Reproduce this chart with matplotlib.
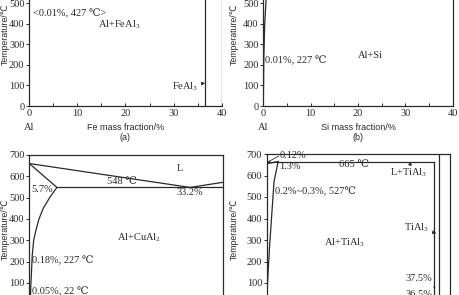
import matplotlib
matplotlib.use("Agg")
import matplotlib.pyplot as plt

plt.rcParams['mathtext.fontset'] = 'custom'
plt.rcParams['mathtext.rm'] = 'Liberation Serif'
plt.rcParams['mathtext.it'] = 'Liberation Serif:italic'

SERIF = ['Liberation Serif', 'DejaVu Serif', 'DejaVu Sans']
SANS = ['Liberation Sans', 'DejaVu Sans']
INK = '#2a2a2a'

# ---------------- data ----------------
temp_ticks = [0, 100, 200, 300, 400, 500, 600, 700]
mass_ticks = [0, 10, 20, 30, 40]
mass_minor = [5, 15, 25, 35]

# (a) Al-Fe
fe_phase_x = [36.5, 40]

# (b) Al-Si solvus
si_solvus_x = [0.0, 0.05, 0.1, 0.3, 0.6, 1.0]
si_solvus_t = [0, 100, 227, 400, 520, 580]

# (c) Al-Cu
cu_liq_x = [0, 33.2, 40]
cu_liq_t = [660, 548, 572]
cu_sol_x = [0, 5.7]
cu_sol_t = [660, 548]
cu_eut_x = [5.7, 40]
cu_eut_t = [548, 548]
cu_solvus_x = [5.7, 4.2, 2.9, 2.0, 1.4, 0.9, 0.6, 0.45, 0.3, 0.2]
cu_solvus_t = [548, 500, 451, 400, 350, 300, 227, 150, 80, 0]

# (d) Al-Ti
ti_liq_x = [0, 0.6]
ti_liq_t = [660, 665]
ti_sol_x = [0, 2.5]
ti_sol_t = [655, 665]
ti_peri_x = [0, 36.5]
ti_peri_t = [665, 665]
ti_solvus_x = [2.5, 1.6, 1.1, 0.6, 0.2, 0.0]
ti_solvus_t = [665, 572, 417, 262, 107, 0]
ti_phase_x = [36.5, 37.5]
ti_phase_top = [665, 700]

W, H = 460, 295
fig = plt.figure(figsize=(4.6, 2.95), dpi=100)


def make_ax(x0, x1, ytop, ybot, labx):
    ax = fig.add_axes([x0 / W, 1 - ybot / H, (x1 - x0) / W, (ybot - ytop) / H])
    ax.set_xlim(0, 40)
    ax.set_ylim(0, 700)
    for s in ax.spines.values():
        s.set_linewidth(0.9)
        s.set_color(INK)
    ax.set_xticks(mass_ticks)
    ax.set_xticks(mass_minor, minor=True)
    ax.set_yticks(temp_ticks)
    ax.set_xticklabels([str(v) for v in mass_ticks], fontfamily=SERIF, fontsize=7.5, color=INK)
    ax.set_yticklabels([str(v) for v in temp_ticks], fontfamily=SERIF, fontsize=7.5, color=INK)
    ax.tick_params(axis='x', which='both', direction='in', length=2.5, width=0.7, pad=2, colors=INK)
    ax.tick_params(axis='y', which='both', direction='out', length=2.5, width=0.7, pad=0.8, colors=INK)
    ax.set_ylabel('Temperature/℃', fontfamily=SANS, fontsize=6.3, color=INK)
    ax.yaxis.set_label_coords(labx, 0.5)
    return ax


def bottom_labels(ax, axis_px_h, name, tag):
    ax.text(0.5, -21 / axis_px_h, name, transform=ax.transAxes, fontfamily=SANS, fontsize=6.5,
            color=INK, ha='center', va='center')
    ax.text(0, -21 / axis_px_h, 'Al', transform=ax.transAxes, fontfamily=SERIF, fontsize=7.5,
            color=INK, ha='center', va='center')
    ax.text(0.5, -31 / axis_px_h, tag, transform=ax.transAxes, fontfamily=SANS, fontsize=6.5,
            color=INK, ha='center', va='center')


lw = 0.9

# ---- (a)
axa = make_ax(29, 222, -37.8, 106, -0.101)
axa.spines['right'].set_visible(False)
for xv in fe_phase_x:
    axa.axvline(xv, color=INK, lw=lw)
axa.text(0.8, 451, '<0.01%, 427 ℃>', fontfamily=SERIF, fontsize=7.5, color=INK, va='center')
axa.text(18.8, 394, r'Al+FeAl$_3$', fontfamily=SERIF, fontsize=7.5, color=INK, va='center', ha='center')
axa.annotate(r'FeAl$_3$', xy=(36.5, 112), xytext=(35.0, 92), fontfamily=SERIF, fontsize=7.5,
             color=INK, ha='right', va='center',
             arrowprops=dict(arrowstyle='-|>', lw=0.6, color=INK, mutation_scale=5))
bottom_labels(axa, 143.8, 'Fe mass fraction/%', '(a)')

# ---- (b)
axb = make_ax(263.3, 452.7, -37.8, 106, -0.128)
axb.plot(si_solvus_x, si_solvus_t, color=INK, lw=lw, clip_on=True)
axb.text(0.4, 219, '0.01%, 227 ℃', fontfamily=SERIF, fontsize=7.5, color=INK, va='center')
axb.text(22.7, 248, 'Al+Si', fontfamily=SERIF, fontsize=7.5, color=INK, va='center', ha='center')
bottom_labels(axb, 143.8, 'Si mass fraction/%', '(b)')

# ---- (c)
axc = make_ax(29.3, 223, 155, 304.3, -0.102)
axc.plot(cu_liq_x, cu_liq_t, color=INK, lw=lw)
axc.plot(cu_sol_x, cu_sol_t, color=INK, lw=lw)
axc.plot(cu_eut_x, cu_eut_t, color=INK, lw=lw)
axc.plot(cu_solvus_x, cu_solvus_t, color=INK, lw=lw)
axc.text(31.1, 639, 'L', fontfamily=SERIF, fontsize=7.5, color=INK, va='center', ha='center')
axc.text(19.1, 577, '548 ℃', fontfamily=SERIF, fontsize=7.5, color=INK, va='center', ha='center')
axc.text(33.2, 522, '33.2%', fontfamily=SERIF, fontsize=7.5, color=INK, va='center', ha='center')
axc.text(0.5, 537, '5.7%', fontfamily=SERIF, fontsize=7.5, color=INK, va='center', ha='left')
axc.text(22.7, 311, r'Al+CuAl$_2$', fontfamily=SERIF, fontsize=7.5, color=INK, va='center', ha='center')
axc.text(0.5, 205, '0.18%, 227 ℃', fontfamily=SERIF, fontsize=7.5, color=INK, va='center')
axc.text(0.5, 58, '0.05%, 22 ℃', fontfamily=SERIF, fontsize=7.5, color=INK, va='center')

# ---- (d)
axd = make_ax(266.7, 450, 154, 304.5, -0.151)
axd.plot(ti_liq_x, ti_liq_t, color=INK, lw=lw)
axd.plot(ti_sol_x, ti_sol_t, color=INK, lw=lw)
axd.plot(ti_peri_x, ti_peri_t, color=INK, lw=lw)
axd.plot(ti_solvus_x, ti_solvus_t, color=INK, lw=lw)
for xv, top in zip(ti_phase_x, ti_phase_top):
    axd.plot([xv, xv], [0, top], color=INK, lw=lw)
axd.plot([0.6, 2.6], [667, 690], color=INK, lw=0.6)
axd.text(2.8, 694, '0.12%', fontfamily=SERIF, fontsize=7.5, color=INK, va='center')
axd.text(2.7, 644, '1.3%', fontfamily=SERIF, fontsize=7.5, color=INK, va='center')
axd.text(19.0, 649, '665 ℃', fontfamily=SERIF, fontsize=7.5, color=INK, va='center', ha='center')
axd.annotate(r'L+TiAl$_3$', xy=(31.5, 678), xytext=(31.0, 611), fontfamily=SERIF, fontsize=7.5,
             color=INK, ha='center', va='center',
             arrowprops=dict(arrowstyle='-|>', lw=0.6, color=INK, mutation_scale=5, shrinkA=4))
axd.text(1.8, 527, '0.2%~0.3%, 527℃', fontfamily=SERIF, fontsize=7.5, color=INK, va='center')
axd.text(17.0, 285, r'Al+TiAl$_3$', fontfamily=SERIF, fontsize=7.5, color=INK, va='center', ha='center')
axd.annotate(r'TiAl$_3$', xy=(37.0, 332), xytext=(35.5, 355), fontfamily=SERIF, fontsize=7.5,
             color=INK, ha='right', va='center',
             arrowprops=dict(arrowstyle='-|>', lw=0.6, color=INK, mutation_scale=5))
axd.annotate('37.5%', xy=(37.3, 70), xytext=(36.2, 122), fontfamily=SERIF, fontsize=7.5,
             color=INK, ha='right', va='center',
             arrowprops=dict(arrowstyle='-', lw=0.6, color=INK))
axd.text(36.2, 45, '36.5%', fontfamily=SERIF, fontsize=7.5, color=INK, va='center', ha='right')

fig.savefig('out.png', dpi=100)
